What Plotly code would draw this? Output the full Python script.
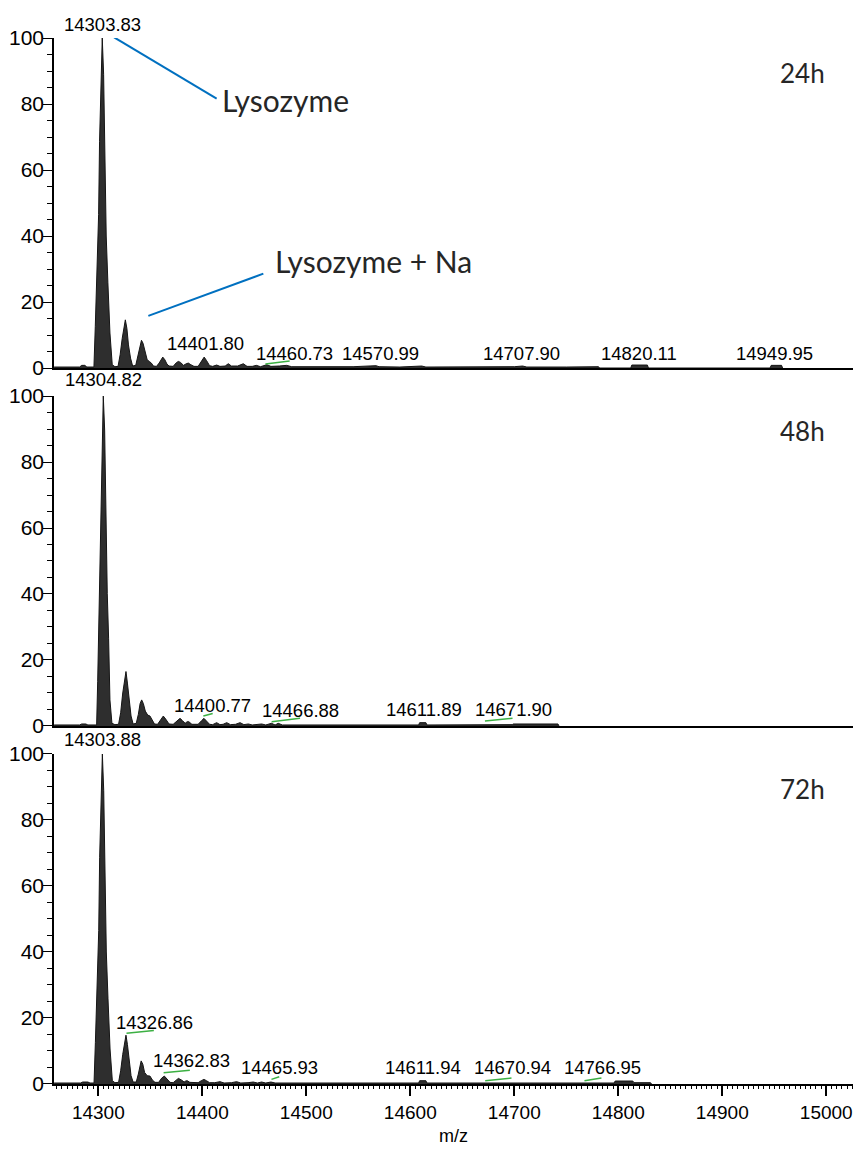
import plotly.graph_objects as go

# ---------------- data ----------------
# 24 h spectrum outline: m/z and relative intensity (%)
mz_24h = [14257.5, 14282, 14284, 14287, 14289, 14295.8, 14297.1, 14298.7, 14300.3, 14301.2,
          14302.5, 14303.8, 14305.1, 14306.4, 14307.6, 14309.2, 14311.2, 14313.4, 14316,
          14319, 14321, 14323, 14324.7, 14326, 14327.5, 14329, 14331, 14333,
          14336, 14338, 14340, 14341.5, 14343, 14345, 14347, 14349, 14351, 14353,
          14356, 14358.5, 14360.5, 14362, 14364, 14366, 14368,
          14372, 14375, 14377, 14379, 14382, 14384, 14386.5, 14389, 14392,
          14396, 14399, 14401.8, 14404, 14407,
          14410, 14413.8, 14417, 14422, 14425, 14428, 14434, 14439.4, 14443, 14448, 14452,
          14456, 14462, 14466, 14474, 14481, 14486, 14500, 14520, 14545, 14567, 14570,
          14590, 14611, 14615, 14650, 14700, 14708, 14712, 14750, 14781, 14782,
          14812, 14813, 14828, 14829, 14946, 14947, 14957, 14958]
int_24h = [0.3, 0.3, 0.8, 0.8, 0.3, 0.3, 12.6, 28, 46.5, 68.7,
           89, 100, 89, 55.6, 40, 26, 10.6, 1.0, 0.4,
           0.5, 4, 9, 13, 14.6, 12, 7, 3, 0.6,
           0.8, 3.5, 7, 8.4, 7.5, 4.5, 2.5, 2.0, 1.5, 0.6,
           0.5, 1.5, 2.8, 3.3, 2.5, 1.2, 0.6,
           0.5, 1.6, 2.0, 1.7, 0.8, 1.2, 1.5, 1.0, 0.5,
           0.5, 2.0, 3.3, 2.3, 0.7,
           0.5, 0.9, 0.5, 0.6, 1.3, 0.6, 0.6, 1.3, 0.5, 0.5, 0.8,
           0.4, 1.0, 0.5, 0.6, 0.8, 0.4, 0.4, 0.3, 0.4, 0.7, 0.4,
           0.3, 0.6, 0.3, 0.3, 0.4, 0.6, 0.3, 0.3, 0.4, 0,
           0, 0.9, 0.9, 0, 0, 0.8, 0.8, 0]

# 48 h spectrum outline
mz_48h = [14257.5, 14282, 14284, 14288, 14290, 14298.4, 14299.4, 14300.3, 14301.6, 14302.6,
          14303.5, 14304.8, 14306.1, 14307.4, 14308.6, 14309.9, 14311.2, 14313.1, 14316,
          14319.5, 14321.5, 14323.5, 14325.2, 14326.6, 14328, 14329.5, 14331.5, 14333.5,
          14336.5, 14338.5, 14340.2, 14341.7, 14343.3, 14345.2, 14347.5, 14349.7, 14351.5, 14354,
          14357, 14359.5, 14362.5, 14365, 14368,
          14372, 14375.5, 14378.6, 14381, 14383.5, 14385.5, 14387, 14390,
          14396, 14399, 14401.6, 14404, 14407,
          14410, 14413.8, 14417, 14420, 14423.5, 14427, 14432, 14436.3, 14440, 14444.3, 14448,
          14457.1, 14461, 14466.5, 14470, 14473, 14477, 14520, 14560, 14608, 14609, 14615, 14616,
          14650, 14672, 14698, 14699, 14742, 14743]
int_48h = [0.3, 0.3, 0.6, 0.6, 0.3, 0.3, 13.4, 28.6, 49.8, 71.5,
           89.7, 100, 89.7, 55.9, 40.2, 26.6, 7.9, 0.8, 0.4,
           0.5, 4, 10, 14.5, 16.5, 13, 8, 3, 0.6,
           0.8, 3.5, 6.8, 7.9, 6.8, 4.5, 3.3, 3.0, 2.0, 0.6,
           0.5, 1.8, 3.0, 2.0, 0.6,
           0.5, 1.6, 2.3, 1.6, 0.8, 1.3, 1.3, 0.5,
           0.5, 1.5, 2.3, 1.5, 0.5,
           0.4, 1.0, 0.4, 0.5, 1.0, 0.4, 0.5, 1.0, 0.4, 0.6, 0.3,
           0.6, 0.3, 0.8, 0.3, 0.8, 0.3, 0.3, 0.3, 0.3, 1.0, 1.0, 0.3,
           0.3, 0.4, 0.4, 0.6, 0.6, 0]

# 72 h spectrum outline
mz_72h = [14257.5, 14283, 14285, 14290, 14292, 14295.9, 14297.2, 14298.8, 14300.4, 14301.3,
          14302.6, 14303.9, 14305.2, 14306.5, 14307.7, 14309.3, 14311.3, 14313.5, 14316,
          14319.5, 14321.5, 14323.5, 14325.2, 14326.6, 14328, 14329.5, 14331.5, 14333.5,
          14336.5, 14338.5, 14340, 14341.2, 14342.8, 14344.5, 14347, 14349.7, 14352, 14354.5,
          14358, 14361, 14363.5, 14366, 14369,
          14372, 14375, 14377, 14380, 14382.5, 14384, 14385.5, 14388,
          14396, 14399, 14401.6, 14404, 14407,
          14412, 14417, 14421, 14428, 14433, 14437, 14444, 14449, 14453, 14457, 14461,
          14466, 14470, 14520, 14570, 14608, 14609, 14615, 14616, 14680, 14740, 14796,
          14797, 14814, 14815, 14831, 14832]
int_72h = [0.3, 0.3, 0.6, 0.6, 0.3, 0.3, 12.6, 28, 46.5, 68.7,
           89, 100, 89, 55.6, 40, 26, 10.6, 1.0, 0.4,
           0.5, 4, 9, 13, 14.8, 12, 7, 2.5, 0.6,
           0.6, 3, 6, 7.0, 6, 3.5, 2.5, 2.4, 1.2, 0.5,
           0.5, 1.8, 2.4, 1.6, 0.5,
           0.4, 1.3, 1.7, 1.2, 0.6, 0.9, 1.0, 0.5,
           0.4, 1.0, 1.4, 1.0, 0.4,
           0.4, 0.7, 0.3, 0.4, 0.7, 0.3, 0.4, 0.6, 0.3, 0.6, 0.3,
           0.6, 0.3, 0.3, 0.3, 0.3, 1.0, 1.0, 0.3, 0.3, 0.3, 0.3,
           0.9, 0.9, 0.4, 0.4, 0]

# peak labels (m/z values printed in the chart)
labels_24h = ["14303.83", "14401.80", "14460.73", "14570.99", "14707.90", "14820.11", "14949.95"]
labels_48h = ["14304.82", "14400.77", "14466.88", "14611.89", "14671.90"]
labels_72h = ["14303.88", "14326.86", "14362.83", "14465.93", "14611.94", "14670.94", "14766.95"]
panel_names = ["24h", "48h", "72h"]
x_tick_values = [14300, 14400, 14500, 14600, 14700, 14800, 14900, 15000]
y_tick_values = [0, 20, 40, 60, 80, 100]

# ---------------- layout / styling ----------------
XR = [14257.4, 15025.7]
NARROW = "Liberation Sans Narrow, Arial Narrow, Liberation Sans, Arial, sans-serif"
REG = "Liberation Sans, Arial, sans-serif"
CAL = "Lato, Open Sans, sans-serif"

# label positions: (x, y, leader [x0,y0,x1,y1] or None); y=None -> top label in paper coords
pos_24h = [(14304.0, None, None), (14402.6, 7.4, None), (14489.0, 4.5, (14460.7, 1.2, 14484.0, 2.1)),
           (14571.8, 4.5, None), (14707.4, 4.5, None), (14819.7, 4.5, None), (14950.0, 4.5, None)]
pos_48h = [(14304.8, None, None), (14409.8, 6.3, (14401.0, 3.0, 14410.0, 3.8)),
           (14494.0, 4.7, (14466.7, 1.3, 14494.0, 2.3)), (14612.7, 4.9, None),
           (14698.8, 4.9, (14671.8, 1.5, 14698.3, 2.3))]
pos_72h = [(14304.5, None, None), (14353.6, 18.6, (14327.1, 15.4, 14353.4, 16.2)),
           (14389.5, 7.1, (14362.8, 3.4, 14388.0, 4.2)), (14474.7, 4.9, (14466.5, 1.4, 14474.0, 2.2)),
           (14612.6, 4.9, None), (14698.3, 4.9, (14672.0, 1.0, 14697.3, 1.8)),
           (14785.3, 4.9, (14767.5, 1.0, 14783.8, 1.8))]
top_label_paper_y = [1.0129, 0.6734, 0.3289]

fig = go.Figure()
spectra = [(mz_24h, int_24h), (mz_48h, int_48h), (mz_72h, int_72h)]
for i, (mz, inten) in enumerate(spectra):
    sfx = "" if i == 0 else str(i + 1)
    fig.add_trace(go.Scatter(x=mz, y=inten, mode="lines", fill="tozeroy",
                             line=dict(color="#151515", width=1), fillcolor="#2e2e2e",
                             xaxis="x" + sfx, yaxis="y" + sfx, showlegend=False,
                             hoverinfo="skip", cliponaxis=False))

domains = [[0.6845, 1.0], [0.3423, 0.6577], [0.0, 0.3155]]
for i in range(3):
    sfx = "" if i == 0 else str(i + 1)
    fig.update_layout(**{
        "yaxis" + sfx: dict(domain=domains[i], anchor="x" + sfx, range=[0, 100],
                            tickvals=y_tick_values, ticks="outside", ticklen=9, tickwidth=1,
                            tickcolor="black", showline=True, linecolor="black", linewidth=1.5,
                            showgrid=False, zeroline=False, ticklabelstandoff=-5,
                            tickfont=dict(family=REG, size=21, color="black"),
                            minor=dict(dtick=5, tick0=0, ticks="outside", ticklen=5,
                                       tickcolor="black", tickwidth=1, showgrid=False)),
    })
    if i < 2:
        fig.update_layout(**{
            "xaxis" + sfx: dict(domain=[0, 1], anchor="y" + sfx, range=XR, showline=True,
                                linecolor="black", linewidth=2, ticks="", showticklabels=False,
                                showgrid=False, zeroline=False),
        })

fig.update_layout(
    xaxis3=dict(domain=[0, 1], anchor="y3", range=XR, showline=True, linecolor="black",
                linewidth=2, ticks="outside", ticklen=10, tickwidth=1.5, tickcolor="black",
                tickvals=x_tick_values, tickformat="d", showgrid=False, zeroline=False,
                tickfont=dict(family=NARROW, size=19, color="black"),
                minor=dict(dtick=5, tick0=14300, ticks="outside", ticklen=3, tickcolor="black",
                           tickwidth=1, showgrid=False),
                title=dict(text="m/z", font=dict(family=NARROW, size=18, color="black"),
                           standoff=8)),
    xaxis4=dict(overlaying="x3", anchor="y3", range=XR, showline=False, ticks="outside",
                ticklen=6, tickwidth=1, tickcolor="black", dtick=20, tick0=14300,
                showticklabels=False, showgrid=False, zeroline=False, side="bottom"),
)

annotations = []
shapes = []
all_labels = [(labels_24h, pos_24h), (labels_48h, pos_48h), (labels_72h, pos_72h)]
for i, (labs, poss) in enumerate(all_labels):
    sfx = "" if i == 0 else str(i + 1)
    for txt, (lx, ly, lead) in zip(labs, poss):
        if ly is None:
            annotations.append(dict(x=lx, y=top_label_paper_y[i], xref="x" + sfx, yref="paper",
                                    text=txt, showarrow=False, xanchor="center", yanchor="middle",
                                    font=dict(family=NARROW, size=18.5, color="black")))
        else:
            annotations.append(dict(x=lx, y=ly, xref="x" + sfx, yref="y" + sfx, text=txt,
                                    showarrow=False, xanchor="center", yanchor="middle",
                                    font=dict(family=NARROW, size=18.5, color="black")))
        if lead is not None:
            shapes.append(dict(type="line", xref="x" + sfx, yref="y" + sfx,
                               x0=lead[0], y0=lead[1], x1=lead[2], y1=lead[3],
                               line=dict(color="#3cb043", width=1.5)))
    annotations.append(dict(x=14953.6, y=89.5, xref="x" + sfx, yref="y" + sfx,
                            text=panel_names[i], showarrow=False, xanchor="left",
                            yanchor="middle", font=dict(family=CAL, size=26, color="#262626")))

# Lysozyme callouts (panel 1)
annotations.append(dict(x=14416.8, y=81.3, xref="x", yref="y", text="Lysozyme", showarrow=False,
                        xanchor="left", yanchor="middle",
                        font=dict(family=CAL, size=30, color="#262626")))
annotations.append(dict(x=14468.0, y=32.5, xref="x", yref="y", text="Lysozyme + Na",
                        showarrow=False, xanchor="left", yanchor="middle",
                        font=dict(family=CAL, size=30, color="#262626")))
shapes.append(dict(type="line", xref="x", yref="y", x0=14315.2, y0=100.2, x1=14413.8, y1=81.6,
                   line=dict(color="#0070C0", width=2)))
shapes.append(dict(type="line", xref="x", yref="y", x0=14348.1, y0=15.8, x1=14458.7, y1=28.6,
                   line=dict(color="#0070C0", width=2)))

fig.update_layout(width=855, height=1149, margin=dict(l=54, r=2, t=38, b=65),
                  paper_bgcolor="white", plot_bgcolor="white",
                  annotations=annotations, shapes=shapes, showlegend=False)

fig.write_html("out.html")
